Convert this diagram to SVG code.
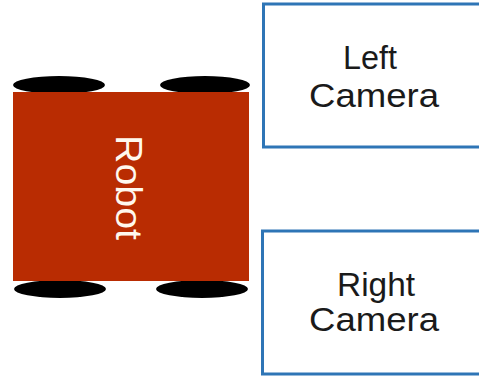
<svg xmlns="http://www.w3.org/2000/svg" width="479" height="377" viewBox="0 0 479 377">
  <style>
    .cam { fill: #ffffff; stroke: #2e75b6; stroke-width: 3; }
    .wheel { fill: #000000; }
    .label { font-family: "Liberation Sans", Arial, sans-serif; text-anchor: middle; }
    .cam-text { fill: #1a1a1a; font-size: 34px; }
  </style>
  <rect width="479" height="377" fill="#ffffff"/>

  <g id="robot">
    <ellipse class="wheel" cx="59" cy="85" rx="46" ry="9"/>
    <ellipse class="wheel" cx="205" cy="85" rx="45" ry="9"/>
    <ellipse class="wheel" cx="60" cy="289" rx="46" ry="9"/>
    <ellipse class="wheel" cx="202" cy="289" rx="46" ry="9"/>
    <rect x="13" y="92" width="236" height="189" fill="#b92c02"/>
    <text class="label" transform="translate(116,187.5) rotate(90)" x="0" y="0" font-size="37" fill="#fff8ee" textLength="105" lengthAdjust="spacingAndGlyphs">Robot</text>
  </g>

  <g id="left-camera">
    <rect class="cam" x="263.5" y="4" width="220" height="143"/>
    <text class="label cam-text" x="370" y="69" textLength="54" lengthAdjust="spacingAndGlyphs">Left</text>
    <text class="label cam-text" x="374" y="107" textLength="130" lengthAdjust="spacingAndGlyphs">Camera</text>
  </g>

  <g id="right-camera">
    <rect class="cam" x="262.5" y="231" width="220" height="143"/>
    <text class="label cam-text" x="376" y="296" textLength="78" lengthAdjust="spacingAndGlyphs">Right</text>
    <text class="label cam-text" x="374" y="331" textLength="130" lengthAdjust="spacingAndGlyphs">Camera</text>
  </g>

  <g id="connectors"></g>
</svg>
